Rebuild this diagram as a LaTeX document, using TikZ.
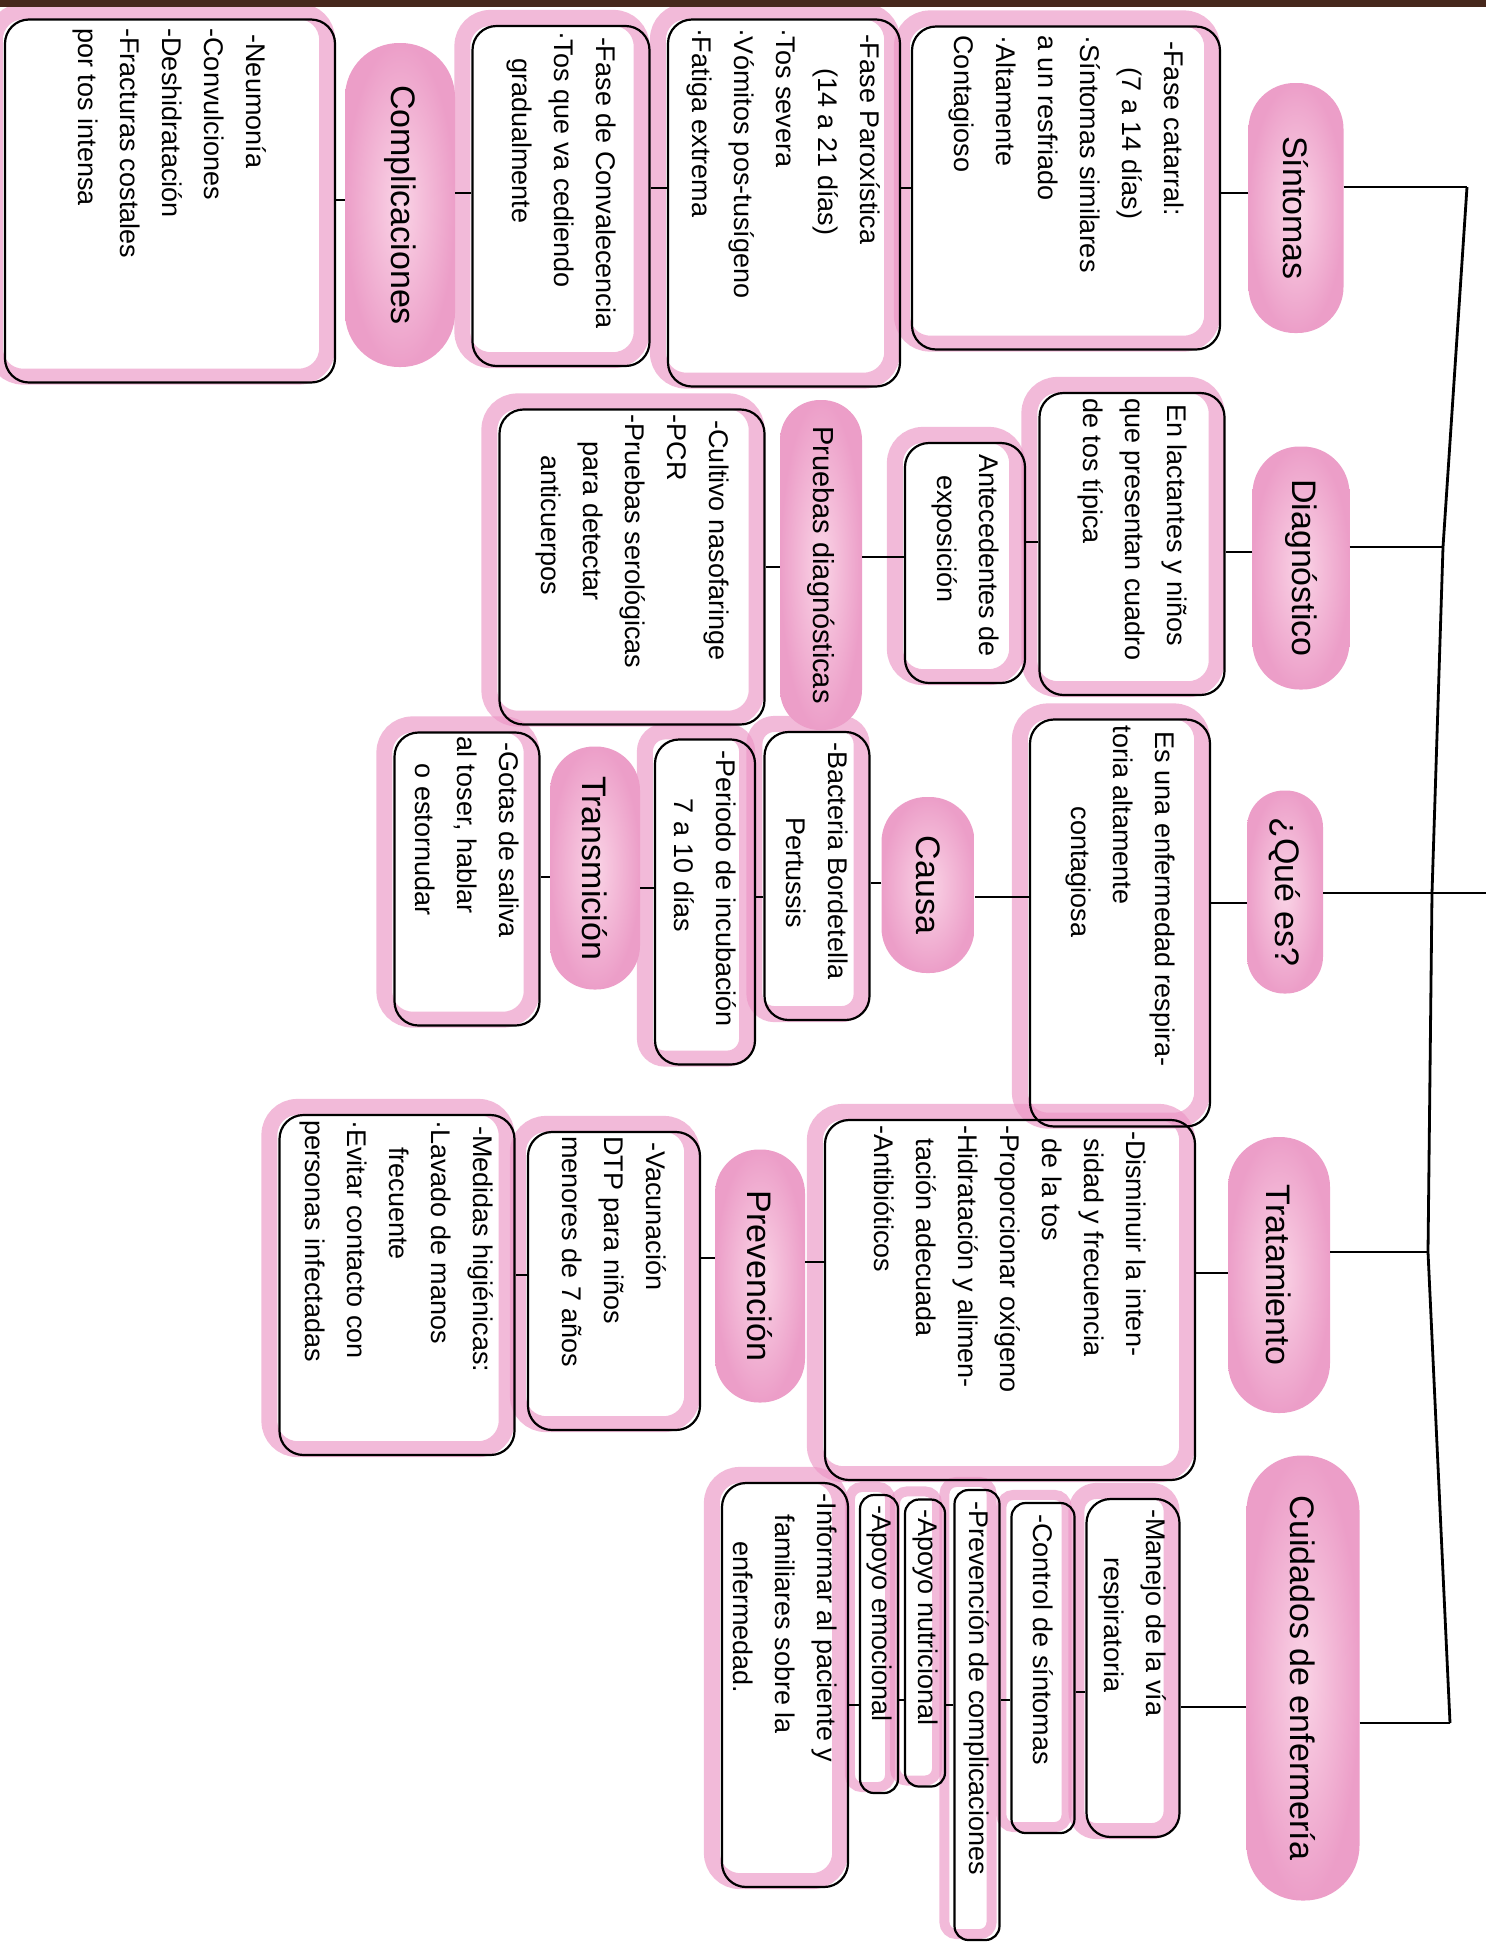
\documentclass[tikz,border=0pt]{standalone}
\usepackage{fontspec}
\setmainfont{Liberation Sans}
\usetikzlibrary{backgrounds}
\definecolor{hl}{RGB}{236,150,198}
\definecolor{blobin}{RGB}{250,212,230}
\definecolor{blobout}{RGB}{236,158,200}
\definecolor{band}{RGB}{70,40,28}
\newcommand{\vtext}[2]{\rotatebox{-90}{\parbox{#1}{\raggedright\hspace*{6pt}#2}}}
\newcommand{\vcat}[1]{\rotatebox{-90}{#1}}
\tikzset{
 box/.style={draw=black, line width=2.2pt, rounded corners=24pt, inner sep=4pt, font=\fontsize{27}{42}\selectfont},
 thinbox/.style={box, rounded corners=14pt, inner sep=2pt},
 cat/.style={rounded corners=36pt, inner sep=2pt, shading=radial, inner color=blobin, outer color=blobout, font=\fontsize{34}{40}\selectfont},
 conn/.style={line width=2.8pt, black},
 hlst/.style={draw=hl, line width=16pt, opacity=0.65, rounded corners=28pt},
}
\newcommand{\hlbox}[2][]{\draw[hlst,#1] ([shift={(-9,-7)}]#2.north west) rectangle ([shift={(-9,-7)}]#2.south east);}
\begin{document}
\begin{tikzpicture}[x=1pt,y=-1pt]
\useasboundingbox (0,0) rectangle (1486,1947);
\begin{scope}[on background layer]
\fill[white] (0,0) rectangle (1486,1947);
\end{scope}
\fill[band] (0,0) rectangle (1486,7);

% category blobs
\node[cat, rounded corners=46pt, minimum width=95, minimum height=250] (sint) at (1296,208) {\vcat{Síntomas}};
\node[cat, rounded corners=47pt, minimum width=97, minimum height=243] (diag) at (1301,568) {\vcat{Diagnóstico}};
\node[cat, rounded corners=37pt, minimum width=76, minimum height=203] (que) at (1285,892) {\vcat{¿Qué es?}};
\node[cat, rounded corners=50pt, minimum width=102, minimum height=276] (trat) at (1279,1275) {\vcat{Tratamiento}};
\node[cat, rounded corners=55pt, minimum width=113, minimum height=445] (cuid) at (1303,1678) {\vcat{Cuidados de enfermería}};
\node[cat, rounded corners=54pt, minimum width=110, minimum height=324] (compl) at (400,205) {\vcat{Complicaciones}};
\node[cat, rounded corners=40pt, minimum width=82, minimum height=330, font=\fontsize{29}{34}\selectfont] (prue) at (821,565) {\vcat{Pruebas diagnósticas}};
\node[cat, rounded corners=45pt, minimum width=93, minimum height=176] (causa) at (928,885) {\vcat{Causa}};
\node[cat, rounded corners=44pt, minimum width=90, minimum height=243] (trans) at (595,868) {\vcat{Transmición}};
\node[cat, rounded corners=44pt, minimum width=90, minimum height=253] (prev) at (760,1276) {\vcat{Prevención}};

% boxes
\node[box, minimum width=308, minimum height=323] (s1) at (1066,188) {\vtext{305pt}{-Fase catarral:\\\hspace*{1.2em}(7 a 14 días)\\·Síntomas similares\\a un resfriado\\·Altamente\\Contagioso}};
\node[box, minimum width=232, minimum height=367] (s2) at (784,203) {\vtext{350pt}{-Fase Paroxística\\\hspace*{1.5em}(14 a 21 días)\\·Tos severa\\·Vómitos pos-tusígeno\\·Fatiga extrema}};
\node[box, minimum width=177, minimum height=340] (s3) at (561,196) {\vtext{330pt}{-Fase de Convalecencia\\·Tos que va cediendo\\\hspace*{1em}gradualmente}};
\node[box, minimum width=330, minimum height=363] (s4) at (170,201) {\vtext{345pt}{-Neumonía\\-Convulciones\\-Deshidratación\\-Fracturas costales\\por tos intensa}};

\node[box, minimum width=185, minimum height=302] (d1) at (1132,544) {\vtext{292pt}{En lactantes y niños\\que presentan cuadro\\de tos típica}};
\node[box, minimum width=120, minimum height=240] (d2) at (965,563) {\vtext{230pt}{Antecedentes de\\\hspace*{1em}exposición}};
\node[box, minimum width=265, minimum height=315] (d3) at (632,567) {\vtext{305pt}{-Cultivo nasofaringe\\-PCR\\-Pruebas serológicas\\\hspace*{1em}para detectar\\\hspace*{1.5em}anticuerpos}};

\node[box, minimum width=180, minimum height=407] (q1) at (1120,923) {\vtext{395pt}{Es una enfermedad respira-\\toria altamente\\\hspace*{3em}contagiosa}};
\node[box, minimum width=105, minimum height=287] (c1) at (817,876) {\vtext{280pt}{-Bacteria Bordetella\\\hspace*{3em}Pertussis}};
\node[box, minimum width=100, minimum height=325] (c2) at (705,902) {\vtext{315pt}{-Periodo de incubación\\\hspace*{2em}7 a 10 días}};
\node[box, minimum width=145, minimum height=292] (t1) at (467,879) {\vtext{285pt}{-Gotas de saliva\\al toser, hablar\\\hspace*{1em}o estornudar}};

\node[box, minimum width=370, minimum height=360] (tr1) at (1010,1300) {\vtext{350pt}{-Disminuir la inten-\\\hspace*{0.5em}sidad y frecuencia\\\hspace*{0.5em}de la tos\\-Proporcionar oxígeno\\-Hidratación y alimen-\\\hspace*{0.5em}tación adecuada\\-Antibióticos}};
\node[box, minimum width=172, minimum height=297] (p1) at (614,1281) {\vtext{290pt}{-Vacunación\\DTP para niños\\menores de 7 años}};
\node[box, minimum width=235, minimum height=340] (p2) at (397,1285) {\vtext{330pt}{-Medidas higiénicas:\\·Lavado de manos\\\hspace*{1em}frecuente\\·Evitar contacto con\\personas infectadas}};

\node[box, minimum width=93, minimum height=337] (ce1) at (1133,1668) {\vtext{330pt}{-Manejo de la vía\\\hspace*{2em}respiratoria}};
\node[thinbox, minimum width=63, minimum height=330] (ce2) at (1043,1668) {\vtext{320pt}{-Control de síntomas}};
\node[thinbox, minimum width=45, minimum height=450] (ce3) at (977,1715) {\vtext{440pt}{-Prevención de complicaciones}};
\node[thinbox, minimum width=40, minimum height=287] (ce4) at (925,1643) {\vtext{280pt}{-Apoyo nutricional}};
\node[thinbox, minimum width=38, minimum height=298] (ce5) at (879,1644) {\vtext{290pt}{-Apoyo emocional}};
\node[box, minimum width=126, minimum height=404] (ce6) at (785,1685) {\vtext{395pt}{-Informar al paciente y\\\hspace*{1em}familiares sobre la\\\hspace*{2em}enfermedad.}};

% highlighter strokes
\begin{scope}[on background layer]
\hlbox{s1}\hlbox{s2}\hlbox{s3}\hlbox{s4}
\hlbox{d1}\hlbox{d2}\hlbox{d3}
\hlbox{q1}\hlbox[rounded corners=20pt]{c1}\hlbox[rounded corners=20pt]{c2}\hlbox{t1}
\hlbox{tr1}\hlbox{p1}\hlbox{p2}
\hlbox[rounded corners=20pt]{ce1}
\hlbox[rounded corners=12pt,line width=10pt]{ce2}
\hlbox[rounded corners=12pt,line width=10pt]{ce3}
\hlbox[rounded corners=12pt,line width=10pt]{ce4}
\hlbox[rounded corners=12pt,line width=10pt]{ce5}
\hlbox{ce6}
\end{scope}

% root spine
\coordinate (j1) at (1467,187);
\coordinate (j2) at (1443,547);
\coordinate (j3) at (1432,893);
\coordinate (j4) at (1428,1252);
\coordinate (j5) at (1450,1723);
\coordinate (e3) at (1486,893);
\draw[conn] (j1) -- (j2) -- (j3) -- (j4) -- (j5);
\draw[conn] (sint.east |- j1) -- (j1);
\draw[conn] (diag.east |- j2) -- (j2);
\draw[conn] (que.east |- j3) -- (e3);
\draw[conn] (trat.east |- j4) -- (j4);
\draw[conn] (cuid.east |- j5) -- (j5);

% level coordinates
\coordinate (ya) at (0,193);
\coordinate (yb) at (0,188);
\coordinate (ye) at (0,200);
\coordinate (yf) at (0,552);
\coordinate (yg) at (0,542);
\coordinate (yh) at (0,557);
\coordinate (yi) at (0,567);
\coordinate (yj) at (0,903);
\coordinate (yk) at (0,897);
\coordinate (yl) at (0,883);
\coordinate (ym) at (0,888);
\coordinate (yn) at (0,877);
\coordinate (yo) at (0,1273);
\coordinate (yp) at (0,1262);
\coordinate (yq) at (0,1258);
\coordinate (yr) at (0,1275);
\coordinate (ys) at (0,1707);
\coordinate (yt) at (0,1692);
\coordinate (yu) at (0,1700);
\coordinate (yv) at (0,1705);

% connectors
\draw[conn] (sint.west |- ya) -- (s1.east |- ya);
\draw[conn] (s1.west |- yb) -- (s2.east |- yb);
\draw[conn] (s2.west |- yb) -- (s3.east |- yb);
\draw[conn] (s3.west |- ya) -- (compl.east |- ya);
\draw[conn] (compl.west |- ye) -- (s4.east |- ye);

\draw[conn] (diag.west |- yf) -- (d1.east |- yf);
\draw[conn] (d1.west |- yg) -- (d2.east |- yg);
\draw[conn] (d2.west |- yh) -- (prue.east |- yh);
\draw[conn] (prue.west |- yi) -- (d3.east |- yi);

\draw[conn] (que.west |- yj) -- (q1.east |- yj);
\draw[conn] (q1.west |- yk) -- (causa.east |- yk);
\draw[conn] (causa.west |- yl) -- (c1.east |- yl);
\draw[conn] (c1.west |- yk) -- (c2.east |- yk);
\draw[conn] (c2.west |- ym) -- (trans.east |- ym);
\draw[conn] (trans.west |- yn) -- (t1.east |- yn);

\draw[conn] (trat.west |- yo) -- (tr1.east |- yo);
\draw[conn] (tr1.west |- yp) -- (prev.east |- yp);
\draw[conn] (prev.west |- yq) -- (p1.east |- yq);
\draw[conn] (p1.west |- yr) -- (p2.east |- yr);

\draw[conn] (cuid.west |- ys) -- (ce1.east |- ys);
\draw[conn] (ce1.west |- yt) -- (ce2.east |- yt);
\draw[conn] (ce2.west |- yu) -- (ce3.east |- yu);
\draw[conn] (ce3.west |- yv) -- (ce4.east |- yv);
\draw[conn] (ce4.west |- yu) -- (ce5.east |- yu);
\draw[conn] (ce5.west |- yv) -- (ce6.east |- yv);
\end{tikzpicture}
\end{document}
